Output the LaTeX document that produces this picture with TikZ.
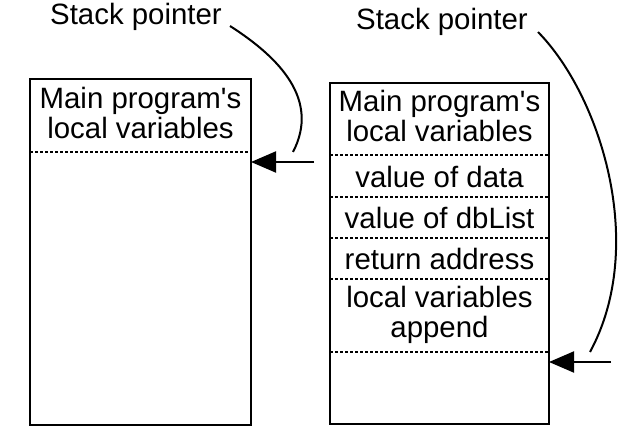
\documentclass[tikz,border=0pt]{standalone}
\usepackage{fontspec}
\setmainfont{Liberation Sans}
\usetikzlibrary{arrows.meta}

\begin{document}
\begin{tikzpicture}[x=0.5pt, y=-0.5pt,
        frame/.style={line width=1pt},
        slot/.style={line width=0.6pt, dash pattern=on 1.5pt off 1pt},
        lbl/.style={font=\fontsize{14.7}{15}\selectfont, align=center, inner sep=0pt},
        ptr/.style={line width=1pt, -{Triangle[length=12.5pt,width=10.5pt]}},
        swing/.style={line width=1pt}]
    \useasboundingbox (0,0) rectangle (631,448);

    % stack before the call
    \draw[frame] (30,79) rectangle (251,425);
    \node[lbl] (mainL) at (140.5,113) {Main program\textquotesingle s\\local variables};
    \draw[slot] (30,152) -- (251,152);
    \node[lbl] (spL) at (136,17) {Stack pointer};
    \coordinate (curveL) at (230,26);
    \coordinate (endL) at (293,152);
    \coordinate (fromL) at (314,162);
    \coordinate (topL) at (251,162);
    \draw[ptr] (fromL) -- (topL);
    \draw[swing] (curveL) .. controls (280,58) and (320,100) .. (endL);

    % stack during append
    \draw[frame] (330,83) rectangle (549,424);
    \node[lbl] (mainR) at (439.5,116) {Main program\textquotesingle s\\local variables};
    \draw[slot] (330,155) -- (549,155);
    \node[lbl] (data) at (439.5,177) {value of data};
    \draw[slot] (330,197) -- (549,197);
    \node[lbl] (dblist) at (439.5,218) {value of dbList};
    \draw[slot] (330,238) -- (549,238);
    \node[lbl] (ret) at (439.5,259) {return address};
    \draw[slot] (330,279) -- (549,279);
    \node[lbl] (locals) at (439.5,315) {local variables\\append};
    \draw[slot] (330,352) -- (549,352);
    \node[lbl] (spR) at (442,22) {Stack pointer};
    \coordinate (curveR) at (538,32);
    \coordinate (endR) at (590,352);
    \coordinate (fromR) at (611,362);
    \coordinate (topR) at (549,362);
    \draw[ptr] (fromR) -- (topR);
    \draw[swing] (curveR) .. controls (600,95) and (648,245) .. (endR);
\end{tikzpicture}
\end{document}
